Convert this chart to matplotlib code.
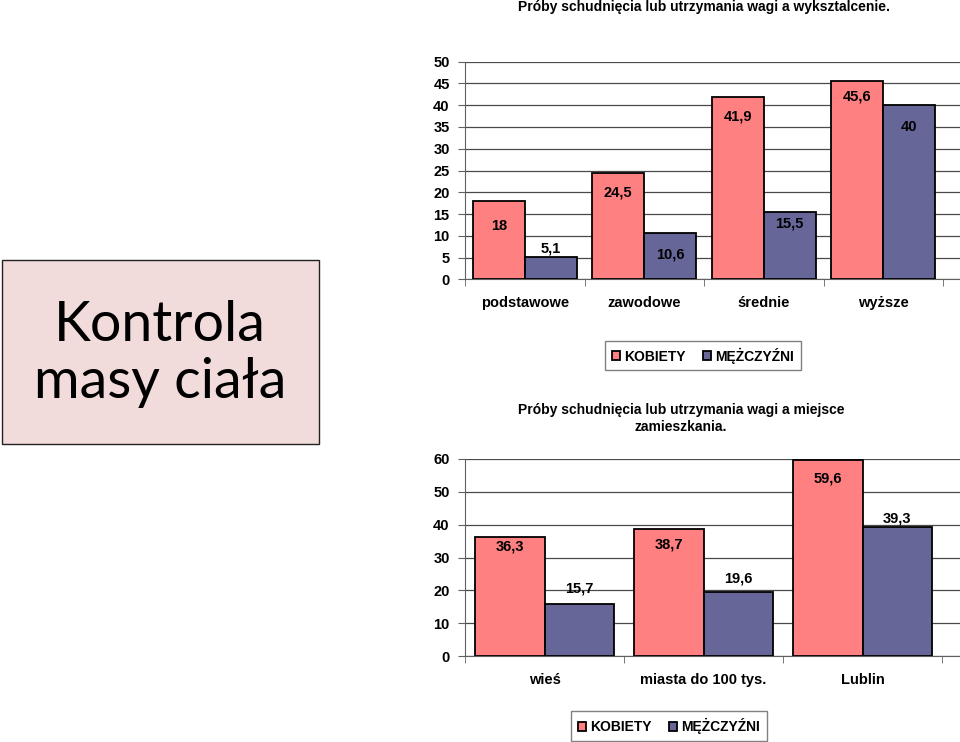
import matplotlib
matplotlib.use("Agg")
import matplotlib.pyplot as plt
from matplotlib.patches import Rectangle
import numpy as np

# ---- data ----
edu_categories = ["podstawowe", "zawodowe", "średnie", "wyższe"]
edu_women = [18, 24.5, 41.9, 45.6]
edu_men = [5.1, 10.6, 15.5, 40]

place_categories = ["wieś", "miasta do 100 tys.", "Lublin"]
place_women = [36.3, 38.7, 59.6]
place_men = [15.7, 19.6, 39.3]

series_names = ["KOBIETY", "MĘŻCZYŹNI"]
title_edu = "Próby schudnięcia lub utrzymania wagi a wyksztalcenie."
title_place = "Próby schudnięcia lub utrzymania wagi a miejsce\nzamieszkania."
side_text = "Kontrola\nmasy ciała"

# ---- style ----
plt.rcParams['font.family'] = ['Liberation Sans', 'DejaVu Sans']
PINK = "#FF8080"
BLUE = "#666699"
W, H = 960, 742
fig = plt.figure(figsize=(W / 100, H / 100), dpi=100)
fig.patch.set_facecolor("white")


def px_axes(left, top, right, bottom):
    return fig.add_axes([left / W, 1 - bottom / H, (right - left) / W, (bottom - top) / H])


def draw_chart(ax, cats, women, men, ymax, ystep, xextra, off_w, off_m):
    n = len(cats)
    x = np.arange(n)
    bw = 0.435
    ax.bar(x - bw / 2, women, bw, color=PINK, edgecolor="black", linewidth=1.3, zorder=3, label=series_names[0])
    ax.bar(x + bw / 2, men, bw, color=BLUE, edgecolor="black", linewidth=1.3, zorder=3, label=series_names[1])
    for i in range(n):
        ax.text(x[i] - bw / 2, women[i] + off_w[i], f"{women[i]:g}".replace(".", ","),
                ha="center", va="center", fontsize=10.5, fontweight="bold", zorder=4)
        ax.text(x[i] + bw / 2, men[i] + off_m[i], f"{men[i]:g}".replace(".", ","),
                ha="center", va="center", fontsize=10.5, fontweight="bold", zorder=4)
    ax.set_xlim(-0.5, n - 0.5 + xextra)
    ax.set_ylim(0, ymax)
    ax.set_yticks(np.arange(0, ymax + 0.1, ystep))
    ax.set_xticks(x)
    ax.set_xticklabels(cats, fontsize=10.5, fontweight="bold")
    ax.set_xticks(np.arange(-0.5, n, 1.0), minor=True)
    ax.tick_params(axis="x", which="major", length=0, pad=12)
    ax.tick_params(axis="x", which="minor", length=5, color="#606060", direction="out")
    ax.tick_params(axis="y", length=5, color="#606060", pad=6)
    for lab in ax.get_yticklabels():
        lab.set_fontweight("bold")
        lab.set_fontsize(10.5)
    ax.yaxis.grid(True, color="#4a4a4a", linewidth=0.9, zorder=0)
    ax.set_axisbelow(True)
    for s in ["top", "right"]:
        ax.spines[s].set_visible(False)
    ax.spines["left"].set_color("#606060")
    ax.spines["bottom"].set_color("#606060")
    ax.set_facecolor("white")


# top chart
ax1 = px_axes(465, 61.7, 960, 279.3)
draw_chart(ax1, edu_categories, edu_women, edu_men, 50, 5, 0.142,
           [-5.8, -4.5, -4.6, -3.7], [1.9, -4.8, -2.6, -5.0])
fig.text(704 / W, 1 - 7 / H, title_edu, ha="center", va="center", fontsize=10, fontweight="bold")
leg1 = ax1.legend(loc="center", bbox_to_anchor=(703 / W, 1 - 355.5 / H), bbox_transform=fig.transFigure,
                  ncol=2, frameon=True, fancybox=False, edgecolor="#808080", framealpha=1,
                  handlelength=0.6, handleheight=0.6, handletextpad=0.3, columnspacing=1.2,
                  prop={"weight": "bold", "size": 10}, borderpad=0.5)
leg1.get_frame().set_linewidth(1.0)

# bottom chart
ax2 = px_axes(465, 459, 960, 656)
draw_chart(ax2, place_categories, place_women, place_men, 60, 10, 0.113,
           [-3.1, -4.6, -5.4], [5.0, 3.9, 2.7])
fig.text(681 / W, 1 - 418.5 / H, title_place, ha="center", va="center", fontsize=10,
         fontweight="bold", linespacing=1.2)
leg2 = ax2.legend(loc="center", bbox_to_anchor=(669 / W, 1 - 726 / H), bbox_transform=fig.transFigure,
                  ncol=2, frameon=True, fancybox=False, edgecolor="#808080", framealpha=1,
                  handlelength=0.6, handleheight=0.6, handletextpad=0.3, columnspacing=1.2,
                  prop={"weight": "bold", "size": 10}, borderpad=0.5)
leg2.get_frame().set_linewidth(1.0)

# side box
fig.patches.append(Rectangle((2 / W, 1 - 444 / H), 317 / W, 184 / H, transform=fig.transFigure,
                             facecolor="#F2DCDB", edgecolor="#222222", linewidth=1.0))
fig.text(160 / W, 1 - 354 / H, side_text, ha="center", va="center", fontsize=40,
         family=["Lato", "DejaVu Sans"], linespacing=1.15)

fig.savefig("out.png", dpi=100)
